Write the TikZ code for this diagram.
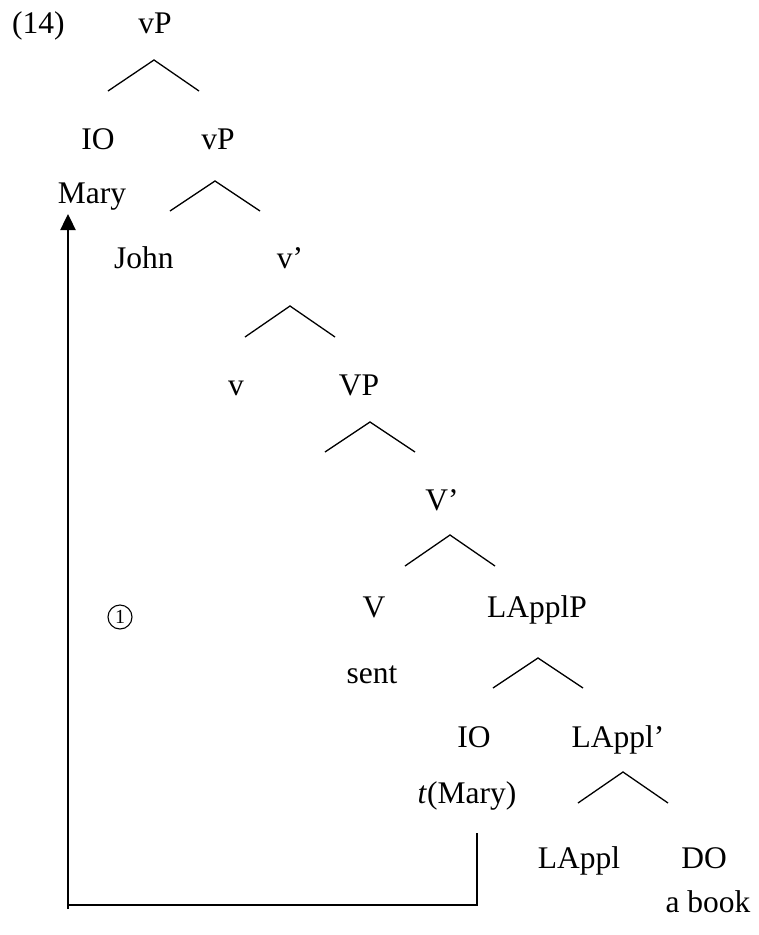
\documentclass[tikz,border=0pt]{standalone}
\usepackage{fontspec}
\setmainfont{Liberation Serif}
\usetikzlibrary{arrows.meta}
\begin{document}
\begin{tikzpicture}[x=1pt,y=-1pt,
  lab/.style={anchor=base,inner sep=0pt,font=\fontsize{31.5}{36}\selectfont},
  circnum/.style={circle,draw,line width=1.1pt,inner sep=0pt,minimum size=24pt,font=\fontsize{20}{22}\selectfont},
  br/.style={line width=1.3pt},
  mv/.style={line width=2.4pt}]
\useasboundingbox (0,0) rectangle (759,935);
% labels
\node[lab,anchor=base west] (ex) at (12,33) {(14)};
\node[lab] (vP1) at (155,33) {vP};
\node[lab] (IO1) at (98,149) {IO};
\node[lab] (vP2) at (218,149) {vP};
\node[lab] (Mary) at (92,203) {Mary};
\node[lab] (John) at (144,268) {John};
\node[lab] (vbar) at (290,268) {v’};
\node[lab] (v) at (236,395) {v};
\node[lab] (VP) at (359,395) {VP};
\node[lab] (Vbar) at (442,510) {V’};
\node[circnum] (one) at (120,617) {1};
\node[lab] (V) at (374,617) {V};
\node[lab] (LApplP) at (537,617) {LApplP};
\node[lab] (sent) at (372,683) {sent};
\node[lab] (IO2) at (474,747) {IO};
\node[lab] (LApplbar) at (618,747) {LAppl’};
\node[lab] (tMary) at (467,803) {\textit{t}(Mary)};
\node[lab] (LAppl) at (579,868) {LAppl};
\node[lab] (DO) at (704,868) {DO};
\node[lab] (abook) at (708,912) {a book};
% branches
\coordinate (a1) at (154,60); \coordinate (a1l) at (108,91); \coordinate (a1r) at (199,91);
\coordinate (a2) at (215,181); \coordinate (a2l) at (170,211); \coordinate (a2r) at (260,211);
\coordinate (a3) at (290,306); \coordinate (a3l) at (245,337); \coordinate (a3r) at (335,337);
\coordinate (a4) at (370,422); \coordinate (a4l) at (325,452); \coordinate (a4r) at (415,452);
\coordinate (a5) at (450,535); \coordinate (a5l) at (405,566); \coordinate (a5r) at (495,566);
\coordinate (a6) at (538,658); \coordinate (a6l) at (493,688); \coordinate (a6r) at (583,688);
\coordinate (a7) at (623,772); \coordinate (a7l) at (578,803); \coordinate (a7r) at (668,803);
\foreach \i in {1,...,7} {\draw[br] (a\i l) -- (a\i) -- (a\i r);}
% movement arrow
\coordinate (mstart) at (477,833);
\coordinate (mcorner) at (68,905);
\coordinate (mlow) at (68,909);
\coordinate (mtip) at (68,214);
\draw[mv] (mstart) |- (mcorner);
\draw[mv,-{Triangle[width=15pt,length=16pt]}] (mlow) -- (mtip);
\end{tikzpicture}
\end{document}
